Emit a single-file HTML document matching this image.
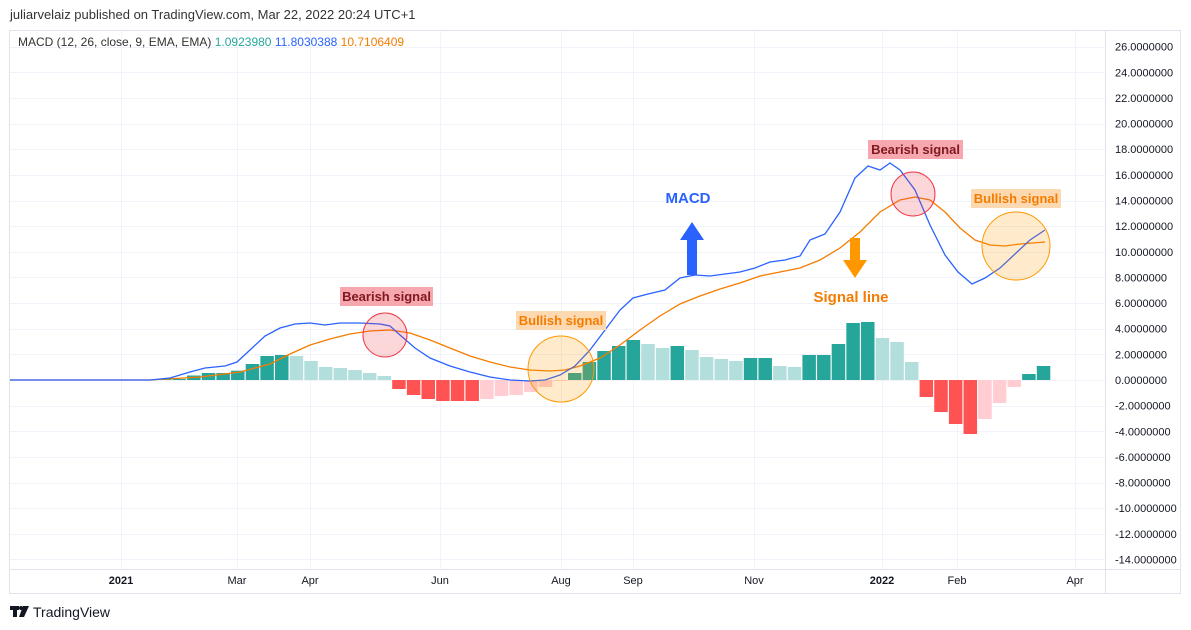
<!DOCTYPE html>
<html><head><meta charset="utf-8"><style>
body{margin:0;background:#fff;width:1191px;height:630px;overflow:hidden;font-family:"Liberation Sans",sans-serif}
svg{position:absolute;left:0;top:0}
</style></head><body>
<svg id="s" width="1191" height="630" xmlns="http://www.w3.org/2000/svg" font-family="Liberation Sans, sans-serif">
<text x="10" y="19" font-size="13" fill="#333">juliarvelaiz published on TradingView.com, Mar 22, 2022 20:24 UTC+1</text>
<rect x="9.5" y="30.5" width="1171" height="563" fill="#fff" stroke="#e0e3eb"/>
<g id="grid" stroke="#f0f3fa" stroke-width="1"></g>
<line x1="1105.5" y1="30" x2="1105.5" y2="594" stroke="#e0e3eb"/>
<line x1="9" y1="569.5" x2="1181" y2="569.5" stroke="#e0e3eb"/>
<g id="bars"></g>
<polyline fill="none" stroke="#f57c00" stroke-width="1.3" points="10,380 150,380 200,377 240,372 270,364 290,354 310,345 330,339 350,334 370,331 390,330 410,333 430,340 450,348 470,356 490,362 510,367 530,370 550,371 565,370 580,366 600,358 620,345 640,330 660,316 680,304 700,296 720,289 740,283 760,276 780,272 800,268 820,260 840,248 860,232 880,212 900,200 915,197 930,200 945,212 960,228 975,240 990,245 1005,246 1020,244 1045,242"/>
<polyline fill="none" stroke="#2962ff" stroke-width="1.3" points="10,380 150,380 170,378 190,372 205,368 225,366 237,362 250,350 265,336 280,328 295,324 310,323 325,325 340,323 360,323 380,324 390,326 400,335 415,348 430,358 450,366 470,372 490,377 510,380 530,381 545,380 560,375 575,366 590,350 605,330 620,310 633,298 648,294 665,290 680,278 695,275 710,276 725,274 740,272 755,268 770,262 785,260 800,256 810,240 825,234 840,212 855,178 868,166 880,170 890,163 900,170 915,190 930,225 945,255 958,272 972,284 985,278 1000,268 1015,254 1030,240 1045,230"/>
<circle cx="385" cy="335" r="22" fill="rgba(242,54,69,0.2)" stroke="#f23645"/>
<circle cx="561" cy="369" r="33" fill="rgba(255,152,0,0.2)" stroke="#ff9800"/>
<circle cx="913" cy="194" r="22" fill="rgba(242,54,69,0.2)" stroke="#f23645"/>
<circle cx="1016" cy="246" r="34" fill="rgba(255,152,0,0.2)" stroke="#ff9800"/>
<rect x="340" y="287" width="93" height="19" fill="#f7a8ae"/>
<text x="386.5" y="301" font-size="13" font-weight="bold" fill="#801922" text-anchor="middle">Bearish signal</text>
<rect x="516" y="311" width="90" height="19" fill="#fcd9b0"/>
<text x="561" y="325" font-size="13" font-weight="bold" fill="#f57c00" text-anchor="middle">Bullish signal</text>
<rect x="868" y="140" width="95" height="19" fill="#f7a8ae"/>
<text x="915.5" y="154" font-size="13" font-weight="bold" fill="#801922" text-anchor="middle">Bearish signal</text>
<rect x="971" y="189" width="90" height="19" fill="#fcd9b0"/>
<text x="1016" y="203" font-size="13" font-weight="bold" fill="#f57c00" text-anchor="middle">Bullish signal</text>
<text x="688" y="203" font-size="15" font-weight="bold" fill="#2962ff" text-anchor="middle">MACD</text>
<polygon points="692,222 704,240 697,240 697,275 687,275 687,240 680,240" fill="#2962ff"/>
<polygon points="855,278 843,260 850,260 850,238 860,238 860,260 867,260" fill="#ff9800"/>
<text x="851" y="302" font-size="15" font-weight="bold" fill="#f57c00" text-anchor="middle">Signal line</text>
<text x="18" y="46" font-size="12" fill="#333">MACD (12, 26, close, 9, EMA, EMA) <tspan fill="#26a69a">1.0923980</tspan> <tspan fill="#2962ff"> 11.8030388</tspan> <tspan fill="#f57c00"> 10.7106409</tspan></text>
<g id="ylab" font-size="11" fill="#131722"></g>
<g font-size="11" fill="#131722" text-anchor="middle">
<text x="121" y="584" font-weight="bold">2021</text><text x="237" y="584">Mar</text><text x="310" y="584">Apr</text><text x="440" y="584">Jun</text><text x="561" y="584">Aug</text><text x="633" y="584">Sep</text><text x="754" y="584">Nov</text><text x="882" y="584" font-weight="bold">2022</text><text x="957" y="584">Feb</text><text x="1075" y="584">Apr</text>
</g>
<g fill="#131722"><rect x="10" y="606" width="9" height="4"/><rect x="13" y="606" width="4" height="11"/><circle cx="21" cy="608" r="2"/><polygon points="23,606 29,606 24,617 19,617"/></g>
<text x="33" y="617" font-size="14" fill="#131722">TradingView</text>
</svg>
<script>
var ns="http://www.w3.org/2000/svg";
function el(p,t,a){var e=document.createElementNS(ns,t);for(var k in a)e.setAttribute(k,a[k]);document.getElementById(p).appendChild(e);return e;}
[121,237,310,440,561,633,754,882,957,1075].forEach(function(x){el("grid","line",{x1:x+.5,y1:31,x2:x+.5,y2:569});});
for(var v=26;v>=-14;v-=2){var y=380-v*12.82;el("grid","line",{x1:10,y1:Math.round(y)+.5,x2:1105,y2:Math.round(y)+.5});
var t=el("ylab","text",{x:1115,y:y+4});t.textContent=(v<0?"-":"")+Math.abs(v)+".0000000";}
var d={"-28":379,"-27":379,"-26":375.5,"-25":373,"-24":373,"-23":370.7,"-22":364,"-21":356,"-20":355,"-19":356,"-18":361,"-17":367,"-16":368,"-15":370,"-14":373,"-13":376,"-12":389,"-11":395,"-10":399,"-9":401,"-8":401,"-7":401,"-6":399,"-5":396,"-4":395,"-3":392,"-2":387,"-1":381,"0":373,"1":362,"2":351,"3":346,"4":340,"5":344,"6":348,"7":346,"8":350,"9":357,"10":359,"11":361,"12":358,"13":358,"14":366,"15":367,"16":355,"17":355,"18":344,"19":323,"20":322,"21":338,"22":342,"23":362,"24":397,"25":412,"26":424,"27":434,"28":419,"29":403,"30":387,"31":374,"32":366};
var prev=380;
for(var i=-28;i<=32;i++){var y=d[i],x=568+i*14.65;var col;
if(y<=380){col=(y<=prev||i==-28)?"#26a69a":"#b2dfdb";el("bars","rect",{x:x,y:y,width:13.5,height:380-y,fill:col});}
else{col=(y>=prev)?"#ff5252":"#ffcdd2";el("bars","rect",{x:x,y:380,width:13.5,height:y-380,fill:col});}
prev=y;}
</script>
</body></html>
